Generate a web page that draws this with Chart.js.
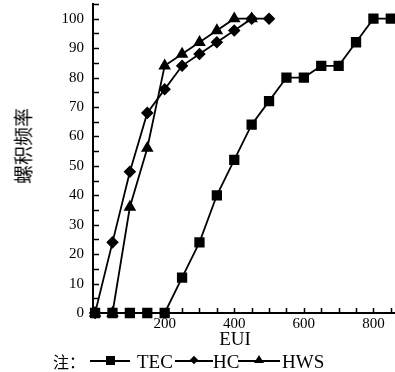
<!DOCTYPE html>
<html>
<head>
<meta charset="utf-8">
<script src="https://cdn.jsdelivr.net/npm/chart.js@4.4.1/dist/chart.umd.min.js"></script>
<style>
  body { margin: 0; background: #fff; }
  #wrap { position: relative; width: 395px; height: 372px; overflow: hidden; }
  .txt { position: absolute; font-family: "Liberation Serif", serif; color: #000; white-space: nowrap; line-height: 1; }
  #ytitle {
    position: absolute; left: 22px; top: 146px; white-space: nowrap;
    font-family: "Noto Sans CJK SC", sans-serif; font-size: 19px; line-height: 1;
    transform: translate(-50%, -50%) rotate(-90deg);
  }
  #xtitle { left: 235px; top: 338px; font-size: 19px; transform: translate(-50%, -50%); }
  .lg { position: absolute; top: 361px; transform: translateY(-50%); }
  .ln { position: absolute; height: 2px; background: #000; top: 360px; }
  .mk { position: absolute; background: #000; }
</style>
</head>
<body>
<div id="wrap">
  <canvas id="myChart" width="395" height="348"></canvas>
  <div id="ytitle">螺积频率</div>
  <div id="xtitle" class="txt">EUI</div>

  <div class="txt lg" style="left:53px; font-family:'Noto Sans CJK SC', sans-serif; font-size:16px;">注：</div>

  <div class="ln" style="left:90px; width:40px"></div>
  <div class="mk" style="left:106px; top:356px; width:9px; height:9px"></div>
  <div class="txt lg" style="left:137px; font-size:19px">TEC</div>

  <div class="ln" style="left:175px; width:38px"></div>
  <div class="mk" style="left:191px; top:357px; width:6px; height:6px; transform:rotate(45deg)"></div>
  <div class="txt lg" style="left:213px; font-size:19px">HC</div>

  <div class="ln" style="left:238px; width:42px"></div>
  <div class="mk" style="left:254px; top:355px; width:0; height:0; background:none; border-left:5px solid transparent; border-right:5px solid transparent; border-bottom:8px solid #000"></div>
  <div class="txt lg" style="left:282px; font-size:19px">HWS</div>
</div>
<script>
const tecX = [0, 50, 100, 150, 200, 250, 300, 350, 400, 450, 500, 550, 600, 650, 700, 750, 800, 850];
const tecY = [0, 0, 0, 0, 0, 12, 24, 40, 52, 64, 72, 80, 80, 84, 84, 92, 100, 100];
const hcX = [0, 50, 100, 150, 200, 250, 300, 350, 400, 450, 500];
const hcY = [0, 24, 48, 68, 76, 84, 88, 92, 96, 100, 100];
const hwsX = [0, 50, 100, 150, 200, 250, 300, 350, 400, 450];
const hwsY = [0, 0, 36, 56, 84, 88, 92, 96, 100, 100];
const xTicks = [200, 400, 600, 800];
const yTicks = [0, 10, 20, 30, 40, 50, 60, 70, 80, 90, 100];

const toPoints = (xs, ys) => xs.map((x, i) => ({ x: x, y: ys[i] }));

// inner tick marks on both axes
const innerTicks = {
  id: 'innerTicks',
  afterDraw(chart) {
    const ctx = chart.ctx;
    const xs = chart.scales.x, ys = chart.scales.y;
    const left = chart.chartArea.left, bottom = chart.chartArea.bottom;
    ctx.save();
    ctx.strokeStyle = '#000';
    ctx.lineWidth = 1.5;
    ctx.beginPath();
    for (let v = 0; v <= 105; v += 5) {
      const py = Math.round(ys.getPixelForValue(v)) + 0.5;
      ctx.moveTo(left, py);
      ctx.lineTo(left + 6, py);
    }
    for (let v = 50; v <= 850; v += 50) {
      const px = Math.round(xs.getPixelForValue(v)) + 0.5;
      ctx.moveTo(px, bottom);
      ctx.lineTo(px, bottom - 5);
    }
    ctx.stroke();
    ctx.restore();
  }
};

const serif = { family: '"Liberation Serif", serif', size: 15 };

new Chart(document.getElementById('myChart'), {
  type: 'line',
  data: {
    datasets: [
      {
        label: 'TEC',
        data: toPoints(tecX, tecY),
        borderColor: '#000', backgroundColor: '#000', borderWidth: 1.8,
        pointStyle: 'rect', pointRadius: 6, pointHoverRadius: 6,
        clip: false
      },
      {
        label: 'HC',
        data: toPoints(hcX, hcY),
        borderColor: '#000', backgroundColor: '#000', borderWidth: 1.8,
        pointStyle: 'rectRot', pointRadius: 5, pointHoverRadius: 5,
        clip: false
      },
      {
        label: 'HWS',
        data: toPoints(hwsX, hwsY),
        borderColor: '#000', backgroundColor: '#000', borderWidth: 1.8,
        pointStyle: 'triangle', pointRadius: 5.5, pointHoverRadius: 5.5,
        clip: false
      }
    ]
  },
  options: {
    responsive: false,
    animation: false,
    layout: { autoPadding: false, padding: { top: 4, right: 0, left: 0, bottom: 0 } },
    plugins: { legend: { display: false }, tooltip: { enabled: false } },
    scales: {
      x: {
        type: 'linear',
        min: -6,
        max: 862,
        grid: { display: false, drawTicks: false },
        border: { display: true, color: '#000', width: 2 },
        afterBuildTicks: (s) => { s.ticks = xTicks.map(v => ({ value: v })); },
        afterFit: (s) => { s.height = 35; s.paddingLeft = 0; s.paddingRight = 0; },
        ticks: { color: '#000', font: serif, padding: 2, maxRotation: 0 }
      },
      y: {
        min: 0,
        max: 105,
        grid: { display: false, drawTicks: false },
        border: { display: true, color: '#000', width: 2 },
        afterBuildTicks: (s) => { s.ticks = yTicks.map(v => ({ value: v })); },
        afterFit: (s) => { s.width = 93; s.paddingTop = 0; s.paddingBottom = 0; },
        ticks: { color: '#000', font: serif, padding: 9 }
      }
    }
  },
  plugins: [innerTicks]
});
</script>
</body>
</html>
